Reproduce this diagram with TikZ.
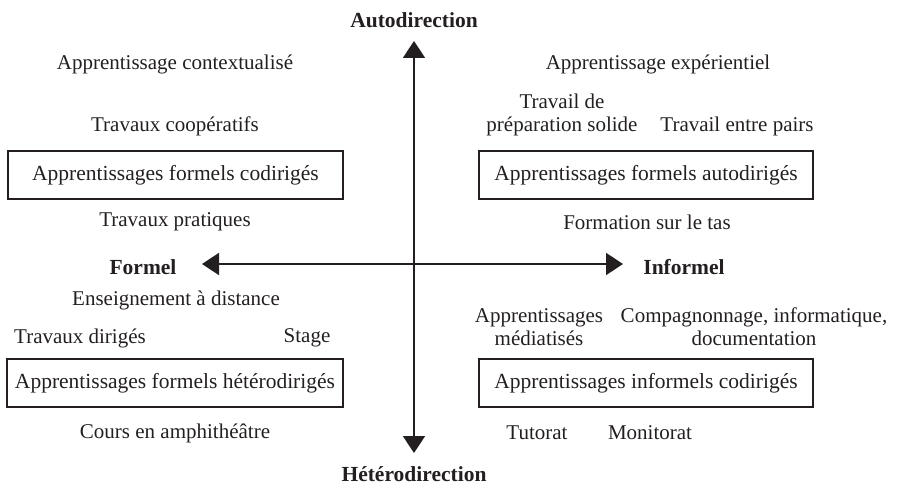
\documentclass[tikz,border=0pt]{standalone}
\usepackage{fontspec}
\setmainfont{Liberation Serif}
\usetikzlibrary{arrows.meta}
\definecolor{ink}{HTML}{231F20}
\begin{document}
\begin{tikzpicture}[x=1pt,y=-1pt,
  lbl/.style={font=\fontsize{21}{23}\selectfont, inner sep=0pt, align=center, text=ink},
  ttl/.style={font=\fontsize{21.5}{23}\selectfont\bfseries, inner sep=0pt, text=ink},
  qbox/.style={draw=ink, line width=2.3pt, minimum height=48pt, inner sep=0pt, font=\fontsize{21.5}{23}\selectfont, text=ink},
  axis/.style={draw=ink, line width=1.8pt, {Triangle[length=17pt,width=22pt]}-{Triangle[length=17pt,width=22pt]}}]
\useasboundingbox (0,0) rectangle (913,486);
% axes
\coordinate (top) at (414,41);
\coordinate (bot) at (414,453);
\coordinate (lft) at (202,264);
\coordinate (rgt) at (623,264);
\draw[axis] (bot) -- (top);
\draw[axis] (lft) -- (rgt);
\node[ttl] (auto) at (414,20) {Autodirection};
\node[ttl] (hetero) at (414,474) {Hétérodirection};
\node[ttl] (formel) at (143,267) {Formel};
\node[ttl] (informel) at (684,267) {Informel};
% boxes
\node[qbox, minimum width=335pt] (b1) at (175.5,175) {Apprentissages formels codirigés};
\node[qbox, minimum width=334pt] (b2) at (646,175) {Apprentissages formels autodirigés};
\node[qbox, minimum width=336pt] (b3) at (175,383) {Apprentissages formels hétérodirigés};
\node[qbox, minimum width=334pt] (b4) at (646,383) {Apprentissages informels codirigés};
% top-left
\node[lbl] (ctx) at (175,64) {Apprentissage contextualisé};
\node[lbl] (coop) at (175,126) {Travaux coopératifs};
\node[lbl] (prat) at (175,222) {Travaux pratiques};
% top-right
\node[lbl] (exp) at (658,64) {Apprentissage expérientiel};
\node[lbl] (prep) at (562,115) {Travail de\\préparation solide};
\node[lbl] (pairs) at (737,126) {Travail entre pairs};
\node[lbl] (tas) at (647,222) {Formation sur le tas};
% bottom-left
\node[lbl] (dist) at (176,300) {Enseignement à distance};
\node[lbl] (td) at (80,338) {Travaux dirigés};
\node[lbl] (stage) at (307,338) {Stage};
\node[lbl] (amphi) at (175,433) {Cours en amphithéâtre};
% bottom-right
\node[lbl] (med) at (539,327) {Apprentissages\\médiatisés};
\node[lbl] (comp) at (754,327) {Compagnonnage, informatique,\\documentation};
\node[lbl] (tut) at (537,433) {Tutorat};
\node[lbl] (mon) at (650,433) {Monitorat};
\end{tikzpicture}
\end{document}
